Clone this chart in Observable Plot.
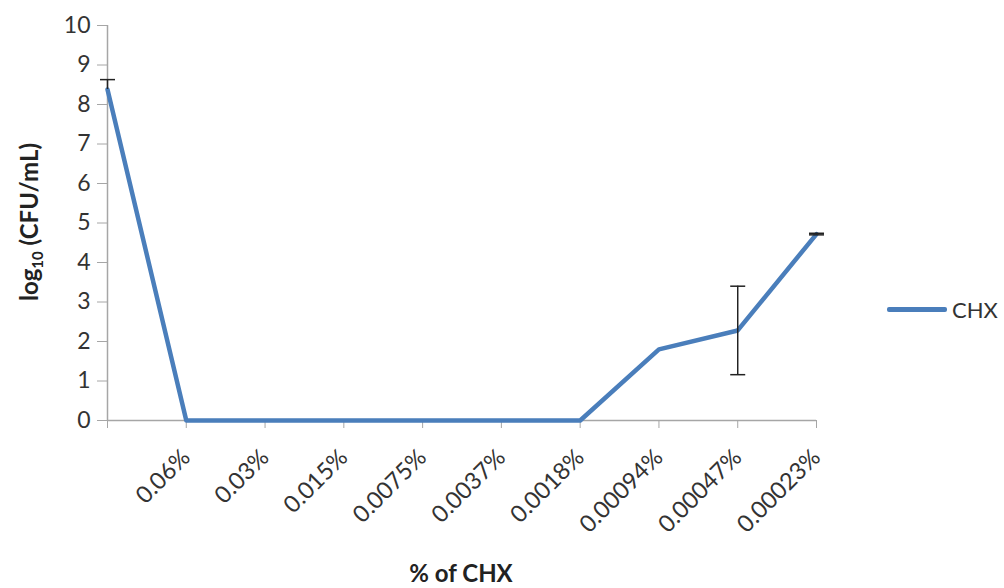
<!DOCTYPE html>
<html>
<head>
<meta charset="utf-8">
<script src="https://cdn.jsdelivr.net/npm/d3@7"></script>
<script src="https://cdn.jsdelivr.net/npm/@observablehq/plot@0.6"></script>
<style>
  body { margin: 0; background: #fff; }
  #wrap { position: relative; width: 1004px; height: 588px; font-family: Lato, "Open Sans", sans-serif; }
  #legend { position: absolute; left: 887px; top: 296px; display: flex; align-items: center; font-size: 22px; color: #333; }
  #legend .sw { width: 60px; height: 5px; background: #4a7ebb; border-radius: 2px; margin-right: 5px; }
</style>
</head>
<body>
<div id="wrap">
  <div id="legend"><span class="sw"></span><span>CHX</span></div>
</div>
<script>
const categories = ["", "0.06%", "0.03%", "0.015%", "0.0075%", "0.0037%", "0.0018%", "0.00094%", "0.00047%", "0.00023%"];
const values =     [8.38, 0, 0, 0, 0, 0, 0, 1.8, 2.28, 4.72];
const errHigh =    [0.25, 0, 0, 0, 0, 0, 0, 0, 1.12, 0.02];
const errLow =     [0,    0, 0, 0, 0, 0, 0, 0, 1.12, 0.02];
const yTicks = [0, 1, 2, 3, 4, 5, 6, 7, 8, 9, 10];

const data = categories.map((c, i) => ({i, label: c, v: values[i], hi: values[i] + errHigh[i], lo: values[i] - errLow[i], hasErr: errHigh[i] > 0 || errLow[i] > 0}));
const errData = data.filter(d => d.hasErr);
const capTop = errData.filter(d => errHigh[d.i] > 0);
const capBot = errData.filter(d => errLow[d.i] > 0);

const cap = {draw(ctx) { ctx.moveTo(-7.5, 0); ctx.lineTo(7.5, 0); }};

const chart = Plot.plot({
  width: 1004,
  height: 588,
  marginLeft: 107,
  marginRight: 188,
  marginTop: 25,
  marginBottom: 168,
  style: {fontFamily: "Lato, 'Open Sans', sans-serif", fontSize: "23px", background: "white"},
  x: {type: "point", domain: data.map(d => d.i), padding: 0, round: false},
  y: {domain: [0, 10]},
  marks: [
    Plot.ruleX([0], {x: d => d, y1: 0, y2: 10, stroke: "#a6a6a6", strokeWidth: 1.5}),
    Plot.ruleY([0], {stroke: "#a6a6a6", strokeWidth: 1.5}),
    Plot.axisY({ticks: yTicks, tickSize: 10, tickPadding: 7, stroke: "#a6a6a6", fill: "#333", label: null, fontSize: 23}),
    Plot.axisX({tickSize: 8, tickPadding: 25, tickRotate: -45, stroke: "#a6a6a6", fill: "#333", label: null, tickFormat: i => categories[i], fontSize: 23.5}),
    Plot.line(data, {x: "i", y: "v", stroke: "#4a7ebb", strokeWidth: 4.5, strokeLinejoin: "round"}),
    Plot.ruleX(errData, {x: "i", y1: "lo", y2: "hi", stroke: "#222", strokeWidth: 1.5}),
    Plot.dot(capTop, {x: "i", y: "hi", symbol: cap, stroke: "#222", strokeWidth: 1.5, fill: "none", r: 5}),
    Plot.dot(capBot, {x: "i", y: "lo", symbol: cap, stroke: "#222", strokeWidth: 1.5, fill: "none", r: 5})
  ]
});

const svg = d3.select(chart);
svg.append("text")
  .attr("x", 461).attr("y", 582)
  .attr("text-anchor", "middle")
  .attr("font-weight", "bold").attr("font-size", 24).attr("fill", "#222")
  .text("% of CHX");
const yt = svg.append("text")
  .attr("transform", "translate(38,222) rotate(-90)")
  .attr("text-anchor", "middle")
  .attr("font-weight", "bold").attr("font-size", 24).attr("fill", "#222");
yt.append("tspan").text("log");
yt.append("tspan").attr("font-size", 15).attr("dy", 5).text("10");
yt.append("tspan").attr("dy", -5).text(" (CFU/mL)");

document.getElementById("wrap").prepend(chart);
</script>
</body>
</html>
